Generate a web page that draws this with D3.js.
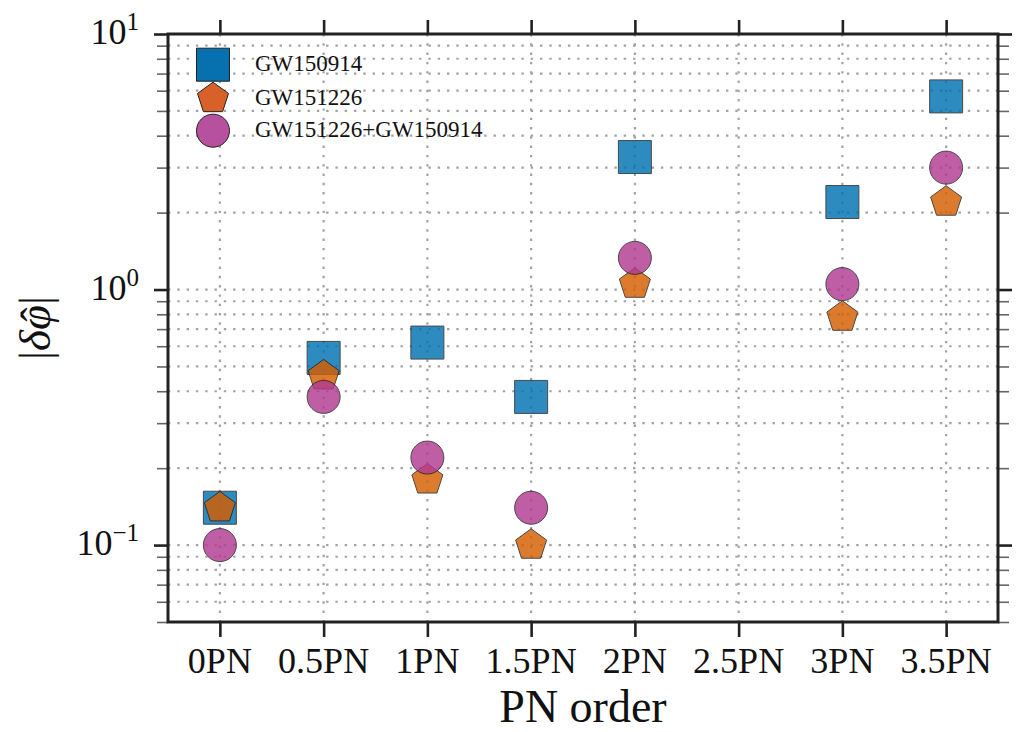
<!DOCTYPE html>
<html>
<head>
<meta charset="utf-8">
<script src="https://cdn.jsdelivr.net/npm/d3@7"></script>
<style>
  html, body { margin: 0; padding: 0; background: #fff; }
  svg { display: block; }
  text { font-family: "Liberation Serif", "DejaVu Serif", serif; fill: #111; }
</style>
</head>
<body>
<svg id="chart" width="1018" height="732"></svg>
<script>
// PN order categories and |δφ̂| bounds for each event
const categories = ["0PN", "0.5PN", "1PN", "1.5PN", "2PN", "2.5PN", "3PN", "3.5PN"];
const gw150914 = [
  {pn: "0PN", v: 0.14}, {pn: "0.5PN", v: 0.54}, {pn: "1PN", v: 0.62}, {pn: "1.5PN", v: 0.38},
  {pn: "2PN", v: 3.3}, {pn: "3PN", v: 2.2}, {pn: "3.5PN", v: 5.7}
];
const gw151226 = [
  {pn: "0PN", v: 0.14}, {pn: "0.5PN", v: 0.46}, {pn: "1PN", v: 0.18}, {pn: "1.5PN", v: 0.10},
  {pn: "2PN", v: 1.05}, {pn: "3PN", v: 0.78}, {pn: "3.5PN", v: 2.2}
];
const combined = [
  {pn: "0PN", v: 0.10}, {pn: "0.5PN", v: 0.38}, {pn: "1PN", v: 0.22}, {pn: "1.5PN", v: 0.14},
  {pn: "2PN", v: 1.33}, {pn: "3PN", v: 1.05}, {pn: "3.5PN", v: 3.0}
];
const majorTicks = [0.1, 1, 10];
const majorExponents = ["−1", "0", "1"];
const minorTicks = [0.05, 0.06, 0.07, 0.08, 0.09, 0.2, 0.3, 0.4, 0.5, 0.6, 0.7, 0.8, 0.9,
                    2, 3, 4, 5, 6, 7, 8, 9];
const yDomain = [0.05, 10];

const svg = d3.select("#chart");
const plotL = 168, plotR = 998, plotT = 34, plotB = 622;

const x = d3.scalePoint().domain(categories).range([plotL, plotR]).padding(0.5);
const y = d3.scaleLog().domain(yDomain).range([plotB, plotT]);

// pentagon marker (circumcentre at origin, point up)
const pentagon = {
  draw(ctx, size) {
    const r = Math.sqrt(size);
    for (let i = 0; i < 5; i++) {
      const a = -Math.PI / 2 + i * 2 * Math.PI / 5;
      const px = r * Math.cos(a), py = r * Math.sin(a);
      if (i === 0) ctx.moveTo(px, py); else ctx.lineTo(px, py);
    }
    ctx.closePath();
  }
};

const series = [
  {name: "GW150914", data: gw150914, type: d3.symbolSquare, size: 33 * 33, color: "#0072B2", legend: "#0770ae"},
  {name: "GW151226", data: gw151226, type: pentagon, size: 16.3 * 16.3, color: "#D55E00", legend: "#d8612a"},
  {name: "GW151226+GW150914", data: combined, type: d3.symbolCircle, size: Math.PI * 16.5 * 16.5, color: "#B13B92", legend: "#b7509e"}
];

// grid
const grid = svg.append("g").attr("stroke", "#a3a3a3").attr("stroke-width", 2.2)
  .attr("stroke-dasharray", "2.4,6.9").attr("fill", "none");
grid.selectAll("line.h").data(majorTicks.concat(minorTicks)).join("line")
  .attr("class", "h")
  .attr("x1", plotL).attr("x2", plotR)
  .attr("y1", d => y(d)).attr("y2", d => y(d));
grid.selectAll("line.v").data(categories).join("line")
  .attr("class", "v")
  .attr("x1", d => x(d)).attr("x2", d => x(d))
  .attr("y1", plotT).attr("y2", plotB);

// markers
series.forEach(s => {
  const sym = d3.symbol().type(s.type).size(s.size);
  svg.append("g").selectAll("path").data(s.data).join("path")
    .attr("d", sym)
    .attr("transform", d => `translate(${x(d.pn)},${y(d.v)})`)
    .attr("fill", s.color)
    .attr("stroke", "#222")
    .attr("stroke-width", 1)
    .attr("opacity", 0.82);
});

// axes: major and minor ticks on all four sides
function styleAxis(g, color, width) {
  g.select(".domain").remove();
  g.selectAll(".tick line").attr("stroke", color).attr("stroke-width", width);
  g.selectAll(".tick text").remove();
}
svg.append("g").attr("transform", `translate(${plotL},0)`)
  .call(d3.axisLeft(y).tickValues(minorTicks).tickSize(11).tickFormat(""))
  .call(g => styleAxis(g, "#666", 1.6));
svg.append("g").attr("transform", `translate(${plotL},0)`)
  .call(d3.axisLeft(y).tickValues(majorTicks).tickSize(14).tickFormat(""))
  .call(g => styleAxis(g, "#222", 2.6));
svg.append("g").attr("transform", `translate(${plotR},0)`)
  .call(d3.axisRight(y).tickValues(minorTicks).tickSize(11).tickFormat(""))
  .call(g => styleAxis(g, "#666", 1.6));
svg.append("g").attr("transform", `translate(${plotR},0)`)
  .call(d3.axisRight(y).tickValues(majorTicks).tickSize(14).tickFormat(""))
  .call(g => styleAxis(g, "#222", 2.6));
svg.append("g").attr("transform", `translate(0,${plotB})`)
  .call(d3.axisBottom(x).tickSize(15).tickFormat(""))
  .call(g => styleAxis(g, "#222", 2.6));
svg.append("g").attr("transform", `translate(0,${plotT})`)
  .call(d3.axisTop(x).tickSize(14).tickFormat(""))
  .call(g => styleAxis(g, "#222", 2.6));

// frame
svg.append("rect")
  .attr("x", plotL).attr("y", plotT)
  .attr("width", plotR - plotL).attr("height", plotB - plotT)
  .attr("fill", "none").attr("stroke", "#222").attr("stroke-width", 3);

// y tick labels: 10^n
const yl = svg.append("g").selectAll("text").data(majorTicks).join("text")
  .attr("x", 139)
  .attr("y", d => y(d) + 10)
  .attr("text-anchor", "end")
  .style("font-size", "36px");
yl.append("tspan").text("10");
yl.append("tspan").attr("dy", -14).style("font-size", "25px")
  .text((d, i) => majorExponents[i]);

// x tick labels
svg.append("g").selectAll("text").data(categories).join("text")
  .attr("x", d => x(d))
  .attr("y", 673)
  .attr("text-anchor", "middle")
  .style("font-size", "36px")
  .text(d => d);

// axis titles
svg.append("text")
  .attr("x", (plotL + plotR) / 2).attr("y", 722)
  .attr("text-anchor", "middle")
  .style("font-size", "46px")
  .text("PN order");

// y title |δφ̂| with the hat placed over φ
const ytGroup = svg.append("g")
  .attr("transform", `translate(50,${(plotT + plotB) / 2}) rotate(-90)`);
const yt = ytGroup.append("text")
  .attr("text-anchor", "middle")
  .style("font-size", "45px");
yt.append("tspan").text("|");
yt.append("tspan").style("font-style", "italic").text("δ");
yt.append("tspan").style("font-style", "italic").text("φ");
yt.append("tspan").text("|");
const phiStart = yt.node().getStartPositionOfChar(2).x;
const phiEnd = yt.node().getEndPositionOfChar(2).x;
ytGroup.append("text")
  .attr("x", (phiStart + phiEnd) / 2 + 3)
  .attr("y", 0)
  .attr("text-anchor", "middle")
  .style("font-size", "42px")
  .text("ˆ");

// legend
const legend = svg.append("g");
const legendY = [64.7, 98.5, 130.7];
series.forEach((s, i) => {
  legend.append("path")
    .attr("d", d3.symbol().type(s.type).size(s.size))
    .attr("transform", `translate(213,${legendY[i]})`)
    .attr("fill", s.legend)
    .attr("stroke", "#222")
    .attr("stroke-width", 1);
  legend.append("text")
    .attr("x", 255).attr("y", legendY[i] - 1)
    .attr("dominant-baseline", "central")
    .style("font-size", "23px")
    .text(s.name);
});
</script>
</body>
</html>
